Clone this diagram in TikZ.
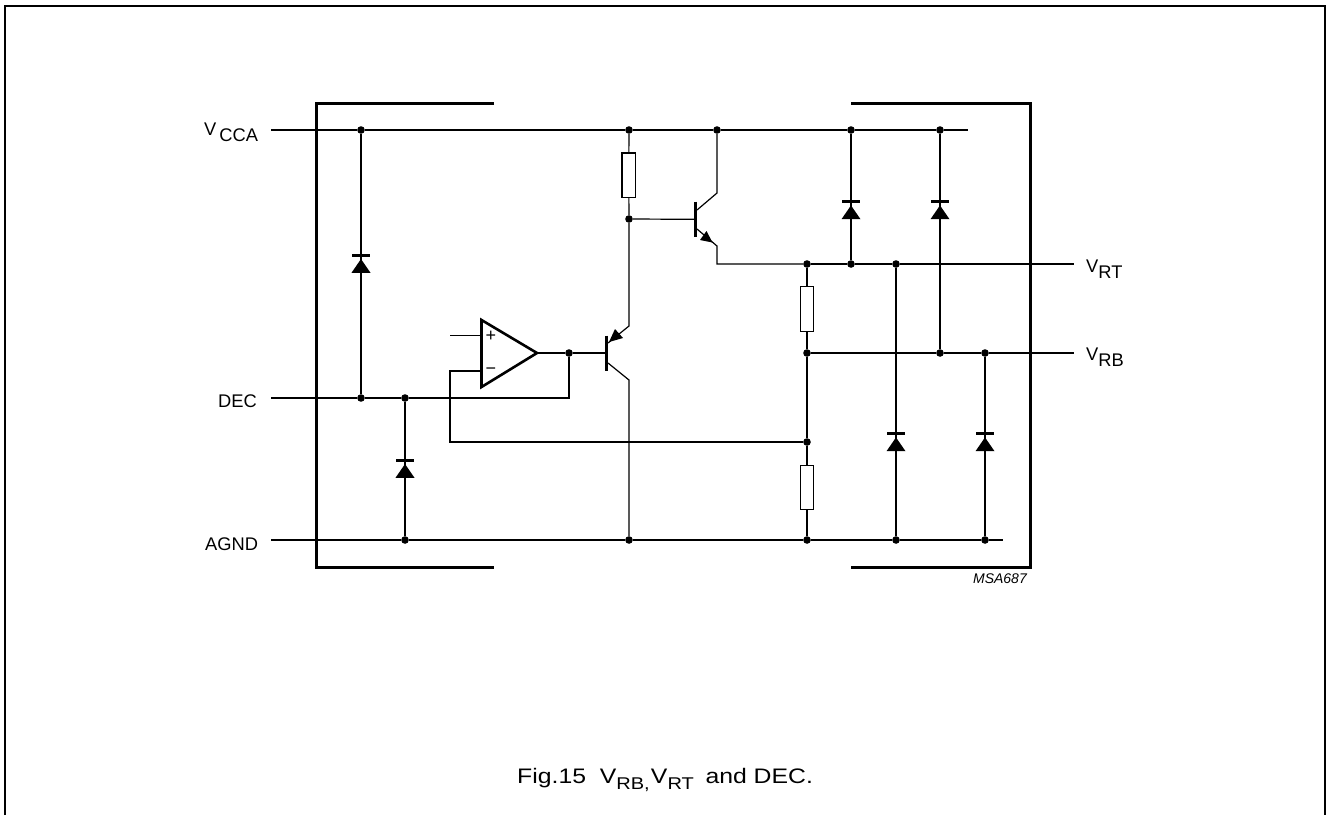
\documentclass[tikz,border=0pt]{standalone}
\usepackage{fontspec}
\setmainfont{Liberation Sans}
\begin{document}
\begin{tikzpicture}[x=1pt,y=-1pt,
  wire/.style={line width=1.2pt,black},
  heavy/.style={line width=3pt,black,line cap=butt},
  dotn/.style={circle,fill=black,inner sep=0pt,minimum size=7.6pt},
  res/.style={draw=black,line width=1.2pt,fill=white,minimum width=13.5pt,minimum height=44.5pt,inner sep=0pt,rectangle},
  lab/.style={inner sep=0pt,anchor=base west,font=\fontsize{18.3}{20}\selectfont},
  opamp/.style={line width=2.6pt,line join=miter,fill=white},
  barbar/.style={line width=3pt},
  head/.style={fill=black,draw=none}]
\newcommand{\sbs}[1]{\raisebox{-6.5pt}{#1}}
\newcommand{\csub}[1]{\raisebox{-6pt}{\fontsize{17}{18}\selectfont #1}}
\useasboundingbox (0,0) rectangle (1326,815);
% sheet frame
\draw[line width=1.7pt] (5.3,815) -- (5.3,5.8) -- (1325,5.8) -- (1325,815);
% package outline
\draw[heavy,line join=miter] (494,103) -- (316,103) -- (316,567) -- (494,567);
\draw[heavy,line join=miter] (851,103) -- (1030,103) -- (1030,567) -- (851,567);
% junctions
\foreach \n/\x/\y in {a/361/130,b/629/130,c/717/130,d/851/130,e/940/130,
  f/629/219,g/807/264,h/851/264,i/896/264,j/807/353,k/940/353,l/985/353,
  m/569/353,n/361/398,o/405/398,p/807/442,q/405/540,r/629/540,s/807/540,t/896/540,u/985/540}
  \node[dotn] (\n) at (\x,\y) {};
% free ends
\coordinate (vccaL) at (271,130); \coordinate (vccaR) at (968,130);
\coordinate (decL) at (271,398); \coordinate (decR) at (569,398);
\coordinate (agndL) at (271,540); \coordinate (agndR) at (1003,540);
\coordinate (vrtR) at (1074,264); \coordinate (vrbR) at (1074,353);
% rails
\draw[wire] (vccaL) -- (a) -- (b) -- (c) -- (d) -- (e) -- (vccaR);
\draw[wire] (agndL) -- (q) -- (r) -- (s) -- (t) -- (u) -- (agndR);
\draw[wire] (decL) -- (n) -- (o) -- (decR) -- (m);
\draw[wire] (g) -- (h) -- (i) -- (vrtR);
\draw[wire] (j) -- (k) -- (l) -- (vrbR);
% resistors
\node[res] (r1) at (628.7,175.3) {};
\node[res] (r2) at (807,309) {};
\node[res] (r3) at (807,487.5) {};
\draw[wire] (b) -- (r1) ; \draw[wire] (r1) -- (f);
\draw[wire] (g) -- (r2); \draw[wire] (r2) -- (j);
\draw[wire] (j) -- (p) -- (r3); \draw[wire] (r3) -- (s);
% diodes
\newcommand{\diode}[4]{% top dot, bottom dot, x, bar y
  \draw[wire] (#1) -- (#2);
  \draw[barbar] (#3-9,#4) -- (#3+9,#4);
  \fill[black] (#3,#4+3.7) -- (#3-9.5,#4+17.5) -- (#3+9.5,#4+17.5) -- cycle;}
\diode{a}{n}{361}{255.3}
\diode{o}{q}{405}{460.3}
\diode{d}{h}{851}{201.7}
\diode{e}{k}{940}{201.7}
\diode{i}{t}{896}{433.7}
\diode{l}{u}{985}{433.7}
% op-amp
\coordinate (oa1) at (481.5,320); \coordinate (oa2) at (481.5,387); \coordinate (oa3) at (537,353);
\coordinate (plusin) at (450,335.7); \coordinate (plusto) at (481.5,335.7);
\coordinate (minuc) at (450,371); \coordinate (minto) at (481.5,371);
\coordinate (fbc) at (450,442);
\draw[wire] (plusin) -- (plusto);
\draw[wire] (minto) -- (minuc) -- (fbc) -- (p);
\draw[opamp] (oa1) -- (oa2) -- (oa3) -- cycle;
\node[font=\fontsize{18}{18}\selectfont,inner sep=0pt] (plus) at (491,336.5) {+};
\node[font=\fontsize{18}{18}\selectfont,inner sep=0pt] (minus) at (491,371) {\symbol{"2212}};
% pnp
\coordinate (pb) at (606,353); \coordinate (pe) at (629,326); \coordinate (pc) at (629,380);
\draw[wire] (oa3) -- (m) -- (pb);
\draw[barbar] (606,335.7) -- (606,371);
\draw[wire] (f) -- (pe) -- (608,343);
\fill[head] (609,342) -- (623,338) -- (615,329) -- cycle;
\draw[wire] (608,363) -- (pc) -- (r);
% npn
\coordinate (nb) at (695.5,219.3); \coordinate (nc) at (717,193); \coordinate (ne) at (717,246); \coordinate (nf) at (717,264);
\draw[wire] (f) -- (nb);
\draw[barbar] (695.5,201.7) -- (695.5,237);
\draw[wire] (c) -- (nc) -- (697,210);
\draw[wire] (697,229) -- (ne) -- (nf) -- (g);
\fill[head] (712.5,242.5) -- (700,240) -- (706.5,231) -- cycle;
% labels
\node[lab] (lv) at (204,135) {V\hspace{3pt}\sbs{CCA}};
\node[lab] (ld) at (218,407) {DEC};
\node[lab] (la) at (205,550.5) {AGND};
\node[lab] (lt) at (1086,272.3) {V\sbs{RT}};
\node[lab] (lb) at (1086,360) {V\sbs{RB}};
\node[anchor=east,inner sep=0pt,font=\fontsize{14}{16}\selectfont\itshape] (ms) at (1027,579) {MSA687};
\node[anchor=base west,inner sep=0pt,font=\fontsize{21}{24}\selectfont] (cap) at (517,783) {\scalebox{1.18}[1]{Fig.15\ \ V\csub{RB,}\hspace{1pt}V\csub{RT}\hspace{4pt} and DEC.}};
\end{tikzpicture}
\end{document}
